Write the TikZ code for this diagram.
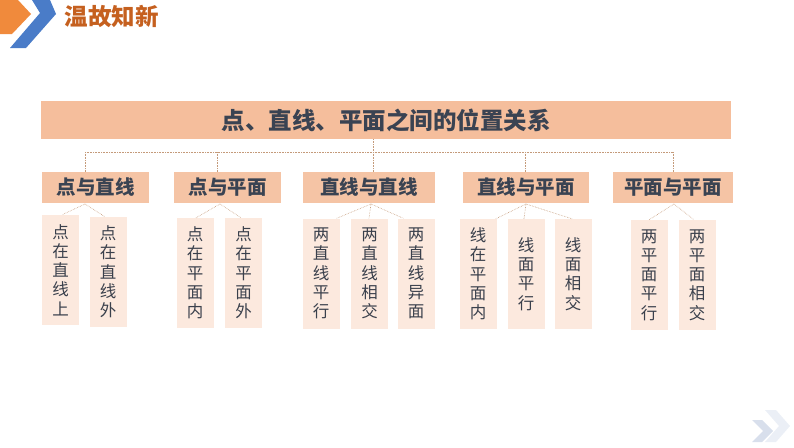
\documentclass[tikz,border=0pt]{standalone}
\usepackage{fontspec}
\setmainfont{Noto Sans CJK SC}
\definecolor{titlefill}{HTML}{F5BE9C}
\definecolor{subfill}{HTML}{F5C4A5}
\definecolor{leaffill}{HTML}{FCE9DE}
\definecolor{darktext}{HTML}{3A4352}
\definecolor{leaftext}{HTML}{3A404C}
\definecolor{linkcol}{HTML}{C49A7A}
\definecolor{headcol}{HTML}{C5601F}
\definecolor{chevorange}{HTML}{F08A3C}
\definecolor{chevblue}{HTML}{4A7CC8}
\definecolor{chevpale}{HTML}{D8DFEC}
\definecolor{chevpaler}{HTML}{EBEFF6}
\begin{document}
\begin{tikzpicture}[x=1pt, y=-1pt,
    topbox/.style={fill=titlefill, minimum width=690pt, minimum height=38pt, inner sep=0pt,
      font=\fontsize{23.5}{25}\selectfont\bfseries, text=darktext},
    subbox/.style={fill=subfill, minimum height=31pt, inner sep=0pt,
      font=\fontsize{19.5}{21}\selectfont\bfseries, text=darktext},
    leaf/.style={fill=leaffill, minimum width=37pt, minimum height=110pt, inner sep=0pt,
      align=center, font=\fontsize{16.5}{19.3}\selectfont, text=leaftext},
    link/.style={draw=linkcol, densely dotted, line width=.6pt}]
      \useasboundingbox (0, 0) rectangle (794, 447);
      %%header
      \fill[chevorange] (0, 0) -- (18, 0) -- (31, 14) -- (12, 34) -- (0, 34) -- cycle;
      \fill[chevblue] (32, 0) -- (50, 0) -- (56, 14) -- (26, 48) -- (10, 48) -- (40, 13) -- cycle;
      \node[anchor=west, text=headcol, font=\fontsize{23.5}{25}\selectfont\bfseries] (head) at (61, 16) {温故知新};
      %%corner
      \fill[chevpaler] (765, 410) -- (776, 410) -- (790, 426) -- (776, 442) -- (765, 442) -- (779, 426) -- cycle;
      \fill[chevpale] (752, 420) -- (762, 420) -- (773, 431) -- (762, 442) -- (752, 442) -- (763, 431) -- cycle;

      %%title
      \node[topbox] (title) at (386, 120) {点、直线、平面之间的位置关系};

      %%groups
      \node[subbox, minimum width=107pt] (s1) at (95.5, 187.5) {点与直线};
      \node[subbox, minimum width=107pt] (s2) at (227.5, 187.5) {点与平面};
      \node[subbox, minimum width=132pt] (s3) at (369, 187.5) {直线与直线};
      \node[subbox, minimum width=126pt] (s4) at (526, 187.5) {直线与平面};
      \node[subbox, minimum width=120pt] (s5) at (673, 187.5) {平面与平面};

      %%bus
      \coordinate (t0) at (373, 152);
      \coordinate (d1) at (85, 152);
      \coordinate (d2) at (217, 152);
      \coordinate (d3) at (373, 152);
      \coordinate (d4) at (525, 152);
      \coordinate (d5) at (673, 152);
      \draw[link] (t0 |- title.south) to (t0);
      \draw[link] (d1) to (d5);
      \draw[link] (d1) to (d1 |- s1.north);
      \draw[link] (d2) to (d2 |- s2.north);
      \draw[link] (d3) to (d3 |- s3.north);
      \draw[link] (d4) to (d4 |- s4.north);
      \draw[link] (d5) to (d5 |- s5.north);

      %%leaves
      \node[leaf] (l1) at (60.5, 270) {点\\在\\直\\线\\上};
      \node[leaf] (l2) at (108, 272) {点\\在\\直\\线\\外};
      \node[leaf] (l3) at (195, 273) {点\\在\\平\\面\\内};
      \node[leaf] (l4) at (243.5, 273) {点\\在\\平\\面\\外};
      \node[leaf] (l5) at (321, 273.5) {两\\直\\线\\平\\行};
      \node[leaf] (l6) at (369.5, 273.5) {两\\直\\线\\相\\交};
      \node[leaf] (l7) at (416, 273.5) {两\\直\\线\\异\\面};
      \node[leaf] (l8) at (478, 274) {线\\在\\平\\面\\内};
      \node[leaf] (l9) at (526, 274) {线\\面\\平\\行};
      \node[leaf] (l10) at (573, 274) {线\\面\\相\\交};
      \node[leaf] (l11) at (649, 275) {两\\平\\面\\平\\行};
      \node[leaf] (l12) at (697, 275) {两\\平\\面\\相\\交};

      %%fans
      \coordinate (a1) at (85, 204);
      \coordinate (a2) at (220, 204);
      \coordinate (a3) at (371, 204);
      \coordinate (a4) at (526, 204);
      \coordinate (a5) at (674, 204);
      \draw[link] (a1) to ([xshift=1.5pt]l1.north);
      \draw[link] (a1) to ([xshift=-3pt]l2.north);
      \draw[link] (a2) to ([xshift=1pt]l3.north);
      \draw[link] (a2) to ([xshift=-2.5pt]l4.north);
      \draw[link] (a3) to ([xshift=-3pt]l5.north east);
      \draw[link] (a3) to ([xshift=-0.5pt]l6.north);
      \draw[link] (a3) to ([xshift=6pt]l7.north west);
      \draw[link] (a4) to ([xshift=-1pt]l8.north east);
      \draw[link] (a4) to ([xshift=-2pt]l9.north);
      \draw[link] (a4) to ([xshift=-1pt]l10.north);
      \draw[link] (a5) to (l11.north);
      \draw[link] (a5) to ([xshift=-3pt]l12.north);
\end{tikzpicture}
\end{document}
